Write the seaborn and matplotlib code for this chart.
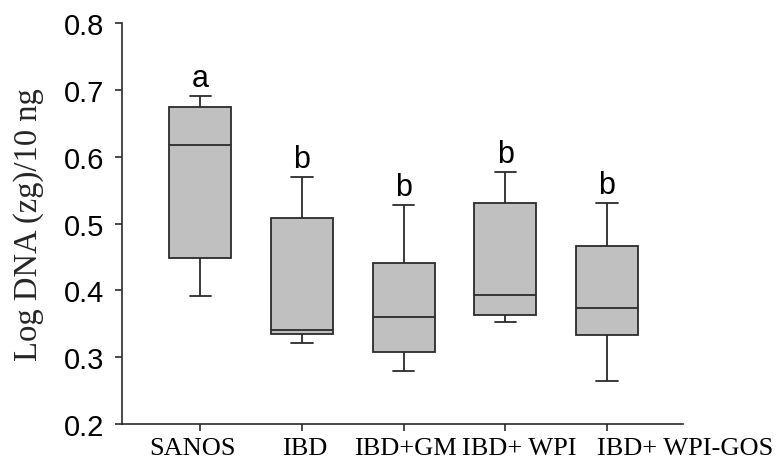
import matplotlib
matplotlib.use("Agg")
import matplotlib.pyplot as plt
import matplotlib.transforms as mtransforms
import numpy as np
import pandas as pd
import seaborn as sns

sns.set_theme(style="ticks")

# five-number summaries
groups = ["SANOS", "IBD", "IBD+GM", "IBD+ WPI", "IBD+ WPI-GOS"]
whisker_low = [0.391, 0.322, 0.279, 0.352, 0.264]
q1 = [0.449, 0.335, 0.308, 0.363, 0.333]
median = [0.617, 0.340, 0.360, 0.393, 0.373]
q3 = [0.675, 0.508, 0.441, 0.531, 0.467]
whisker_high = [0.691, 0.570, 0.528, 0.577, 0.531]
letters = ["a", "b", "b", "b", "b"]

# build a small long table: five points per group reproduce the summary
rows = []
for i, g in enumerate(groups):
    for v in (whisker_low[i], q1[i], median[i], q3[i], whisker_high[i]):
        rows.append({"group": g, "value": v})
df = pd.DataFrame(rows)

fig = plt.figure(figsize=(7.78, 4.64), dpi=100)
ax = fig.add_axes([0.157, 0.084, 0.721, 0.864])

edge = "#2b2b2b"
sns.boxplot(data=df, x="group", y="value", order=groups, color="#c0c0c0",
            linecolor=edge, linewidth=1.3, width=0.61, whis=np.inf,
            capwidths=0.21, saturation=1, ax=ax)

for i, lab in enumerate(letters):
    ax.text(i, whisker_high[i] + 0.004, lab, ha="center", va="bottom",
            fontsize=22, family="Liberation Sans", color="black")

ax.set_ylim(0.2, 0.8)
ax.set_xlim(-0.77, 4.75)
ax.set_yticks([0.2, 0.3, 0.4, 0.5, 0.6, 0.7, 0.8])
ax.set_yticklabels(["0.2", "0.3", "0.4", "0.5", "0.6", "0.7", "0.8"],
                   fontsize=21, family="Liberation Sans")
ax.set_xticks(range(len(groups)))
ax.set_xticklabels([])
ax.set_xlabel("")
ax.set_ylabel("Log DNA (zg)/10 ng", fontsize=23.5, family="Liberation Serif",
              labelpad=14)

# the original labels sit a bit off their ticks, the last ones to the right
shifts = [-8, 3, 2, 14, 78]
for i, (g, dx) in enumerate(zip(groups, shifts)):
    tr = ax.get_xaxis_transform() + mtransforms.ScaledTranslation(
        dx / 100, -0.13, fig.dpi_scale_trans)
    ax.text(i, 0, g, transform=tr, ha="center", va="top", fontsize=19,
            family="Liberation Serif", color="black")

sns.despine(ax=ax)
for side in ["left", "bottom"]:
    ax.spines[side].set_color(edge)
    ax.spines[side].set_linewidth(1.2)
ax.tick_params(axis="both", direction="out", length=5, width=1.2,
               color=edge, colors="black")
ax.tick_params(axis="y", pad=8)

fig.savefig("out.png", dpi=100)
